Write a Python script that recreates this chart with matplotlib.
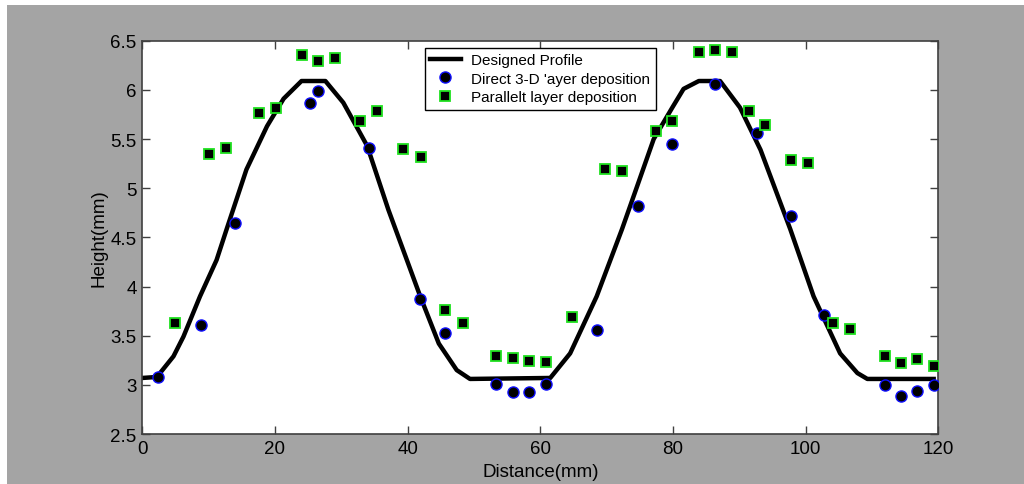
import matplotlib
matplotlib.use("Agg")
import matplotlib.pyplot as plt
from matplotlib.patches import Rectangle

# Designed profile
profile_x = [0, 2.2, 4.7, 6.2, 8.7, 11.2, 12.7, 15.7, 18.8, 21.3, 24.0, 27.6, 30.3, 33.9,
             37.1, 41.9, 44.7, 47.4, 49.4, 61.5, 64.5, 68.5, 72.3, 74.6, 77.1, 79.9,
             81.6, 83.9, 87.1, 90.1, 93.2, 97.7, 101.2, 105.2, 107.8, 109.3, 119.3]
profile_y = [3.07, 3.08, 3.29, 3.49, 3.90, 4.27, 4.58, 5.19, 5.63, 5.91, 6.09, 6.09, 5.87, 5.43,
             4.78, 3.90, 3.42, 3.15, 3.06, 3.07, 3.32, 3.90, 4.58, 5.02, 5.50, 5.82,
             6.01, 6.09, 6.09, 5.82, 5.39, 4.58, 3.90, 3.32, 3.12, 3.06, 3.06]

# Direct 3-D layer deposition
direct_x = [2.3, 8.8, 13.9, 25.3, 26.5, 34.2, 41.9, 45.7, 53.3, 55.9, 58.3, 60.8,
            68.5, 74.8, 79.9, 86.4, 92.7, 97.8, 102.7, 111.9, 114.4, 116.8, 119.3]
direct_y = [3.08, 3.61, 4.65, 5.87, 5.99, 5.41, 3.87, 3.53, 3.01, 2.93, 2.93, 3.01,
            3.56, 4.82, 5.45, 6.06, 5.56, 4.72, 3.71, 3.00, 2.89, 2.94, 3.00]

# Parallel layer deposition
parallel_x = [4.9, 10.0, 12.6, 17.6, 20.2, 24.0, 26.5, 29.1, 32.8, 35.4, 39.3, 42.0,
              45.7, 48.3, 53.3, 55.9, 58.3, 60.8, 64.8, 69.8, 72.3, 77.4, 79.9, 83.9,
              86.4, 88.9, 91.4, 93.9, 97.8, 100.4, 104.1, 106.7, 111.9, 114.4, 116.8, 119.3]
parallel_y = [3.63, 5.35, 5.41, 5.76, 5.82, 6.35, 6.29, 6.32, 5.68, 5.79, 5.40, 5.32,
              3.76, 3.63, 3.29, 3.27, 3.24, 3.23, 3.69, 5.20, 5.17, 5.58, 5.68, 6.38,
              6.41, 6.38, 5.79, 5.64, 5.29, 5.26, 3.63, 3.57, 3.29, 3.22, 3.26, 3.19]

xticks = [0, 20, 40, 60, 80, 100, 120]
yticks = [2.5, 3, 3.5, 4, 4.5, 5, 5.5, 6, 6.5]
ytick_labels = ["2.5", "3", "3.5", "4", "4.5", "5", "5.5", "6", "6.5"]

plt.rcParams['font.family'] = ['Liberation Sans', 'DejaVu Sans']

fig = plt.figure(figsize=(10.24, 4.85), dpi=100, facecolor='white')
fig.patches.append(Rectangle((7 / 1024, 0), 1, 1 - 6 / 485, transform=fig.transFigure,
                             facecolor='#a4a4a4', edgecolor='none', zorder=-10))
ax = fig.add_axes([142.3 / 1024, 1 - 435 / 485, (938.3 - 142.3) / 1024, (435 - 41.7) / 485])
ax.set_facecolor('white')

ax.plot(profile_x, profile_y, color='black', lw=3.2, label='Designed Profile',
        solid_joinstyle='round', zorder=2)
ax.plot(direct_x, direct_y, linestyle='none', marker='o', markersize=8,
        markerfacecolor='black', markeredgecolor='#1010ff', markeredgewidth=1.0,
        label="Direct 3-D 'ayer deposition", zorder=3)
ax.plot(parallel_x, parallel_y, linestyle='none', marker='s', markersize=7,
        markerfacecolor='black', markeredgecolor='#20e020', markeredgewidth=1.3,
        label='Parallelt layer deposition', zorder=3)

ax.set_xlim(0, 120)
ax.set_ylim(2.5, 6.5)
ax.set_xticks(xticks)
ax.set_xticklabels([str(t) for t in xticks])
ax.set_yticks(yticks)
ax.set_yticklabels(ytick_labels)
ax.tick_params(direction='in', length=6, width=1.0, color='#404040', labelsize=13.5,
               top=True, right=True, pad=4)
for s in ax.spines.values():
    s.set_color('#404040')
    s.set_linewidth(1.2)

ax.set_xlabel('Distance(mm)', fontsize=13.5, labelpad=5)
ax.set_ylabel('Height(mm)', fontsize=13.5, labelpad=2)

leg = ax.legend(loc='upper center', bbox_to_anchor=(0.5, 0.99), fontsize=11,
                frameon=True, fancybox=False, edgecolor='black', framealpha=1,
                numpoints=1, handlelength=2.0, borderpad=0.35, labelspacing=0.3,
                handletextpad=0.7, borderaxespad=0.2)
leg.get_frame().set_linewidth(1.0)

fig.savefig('out.png', dpi=100, facecolor='white')
